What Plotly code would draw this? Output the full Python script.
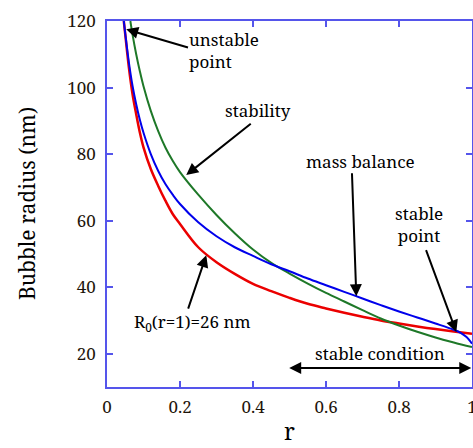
import plotly.graph_objects as go

# ---- data ----
r_red = [0.046, 0.05, 0.06, 0.07, 0.08, 0.09, 0.10, 0.12, 0.14, 0.16, 0.18, 0.20, 0.25, 0.30,
         0.35, 0.40, 0.45, 0.50, 0.55, 0.60, 0.65, 0.70, 0.75, 0.80, 0.85, 0.90, 0.95, 1.00]
R_red = [120, 116, 106, 98, 92, 86.5, 82, 75.5, 70.5, 66, 62, 59, 52, 47.5,
         44, 41, 38.8, 36.8, 35, 33.6, 32.3, 31.1, 30, 29.1, 28.2, 27.4, 26.7, 26]

r_blue = [0.046, 0.05, 0.06, 0.07, 0.08, 0.09, 0.10, 0.12, 0.14, 0.16, 0.18, 0.20, 0.25, 0.30,
          0.35, 0.40, 0.45, 0.50, 0.55, 0.60, 0.65, 0.70, 0.75, 0.80, 0.85, 0.90, 0.95, 0.97,
          0.985, 1.00]
R_blue = [120, 116.2, 107.5, 100.5, 95, 90.3, 86.4, 80, 75, 71, 67.8, 65, 59.5, 55.3,
          52, 49.4, 46.9, 44.8, 42.6, 40.6, 38.6, 36.6, 34.6, 32.7, 30.9, 29.1, 27.2, 26.2,
          25, 23]

r_green = [0.064, 0.07, 0.08, 0.09, 0.10, 0.12, 0.14, 0.16, 0.18, 0.20, 0.25, 0.30, 0.35, 0.40,
           0.45, 0.50, 0.55, 0.60, 0.65, 0.70, 0.75, 0.80, 0.85, 0.90, 0.95, 1.00]
R_green = [120, 115.9, 110, 104.9, 100.4, 93, 87, 82, 78, 74.6, 67.8, 61.7, 56.2, 51.3,
           47.3, 44.1, 41.1, 38.3, 35.7, 33.1, 30.6, 28.5, 26.6, 24.9, 23.4, 22]

x_ticks = [0, 0.2, 0.4, 0.6, 0.8, 1]
x_tick_labels = ["0", "0.2", "0.4", "0.6", "0.8", "1"]
y_ticks = [20, 40, 60, 80, 100, 120]
y_tick_labels = ["20", "40", "60", "80", "100", "120"]

SERIF = "Noto Serif, DejaVu Serif, serif"
AXC = "rgb(85,85,235)"

fig = go.Figure()
fig.add_trace(go.Scatter(x=r_red, y=R_red, mode="lines", line=dict(color="rgb(235,0,0)", width=2.5),
                         line_shape="spline", showlegend=False))
fig.add_trace(go.Scatter(x=r_green, y=R_green, mode="lines", line=dict(color="rgb(30,120,40)", width=2),
                         line_shape="spline", showlegend=False))
fig.add_trace(go.Scatter(x=r_blue, y=R_blue, mode="lines", line=dict(color="rgb(0,0,235)", width=2),
                         line_shape="spline", showlegend=False))

font = dict(family=SERIF, size=17, color="black")
ann = []

def arrow(x, y, ax, ay, side="end"):
    ann.append(dict(x=x, y=y, ax=ax, ay=ay, xref="x", yref="y", axref="x", ayref="y",
                    text="", showarrow=True, arrowhead=2, arrowsize=1.2, arrowwidth=2,
                    arrowcolor="black", arrowside=side, standoff=0, startstandoff=0))

def label(x, y, text, xanchor="left", align="left"):
    ann.append(dict(x=x, y=y, xref="x", yref="y", text=text, showarrow=False,
                    xanchor=xanchor, yanchor="middle", align=align, font=font))

label(0.2205, 111.1, "unstable<br>point")
arrow(0.0526, 117.5, 0.226, 111.9)
label(0.415, 93.2, "stability", xanchor="center", align="center")
arrow(0.217, 73.7, 0.398, 89.5)
label(0.6945, 77.8, "mass balance", xanchor="center", align="center")
arrow(0.683, 37.3, 0.671, 74.7)
label(0.856, 58.9, "stable<br>point", xanchor="center", align="center")
arrow(0.957, 26.5, 0.8726, 51.6)
label(0.069, 29.5, "R<sub>0</sub>(r=1)=26 nm")
arrow(0.272, 49.6, 0.221, 33.1)
label(0.7466, 20.1, "stable condition", xanchor="center", align="center")
arrow(0.998, 15.7, 0.495, 15.7, side="end+start")

# axis titles
ann.append(dict(x=0, y=0.5, xref="paper", yref="paper", xshift=-80, text="Bubble radius (nm)",
                textangle=-90, showarrow=False, xanchor="center", yanchor="middle",
                font=dict(family=SERIF, size=21, color="black")))
ann.append(dict(x=0.5, y=0, xref="paper", yref="paper", yshift=-62, text="r",
                showarrow=False, xanchor="center", yanchor="bottom",
                font=dict(family=SERIF, size=23, color="black")))

axis_common = dict(showline=True, linecolor=AXC, linewidth=1.5, mirror="allticks",
                   ticks="inside", ticklen=6, tickwidth=1.5, tickcolor=AXC,
                   showgrid=False, zeroline=False, ticklabeloverflow="allow",
                   tickfont=dict(family=SERIF, size=17, color="rgb(30,20,10)"))

fig.update_layout(
    width=473, height=448,
    margin=dict(l=107, r=1, t=21, b=61, autoexpand=False),
    paper_bgcolor="white", plot_bgcolor="white",
    xaxis=dict(range=[0, 1], tickvals=x_ticks, ticktext=x_tick_labels, ticklabelstandoff=4,
               automargin=False, **axis_common),
    yaxis=dict(range=[10, 120], tickvals=y_ticks, ticktext=y_tick_labels, ticklabelstandoff=6,
               automargin=False, **axis_common),
    annotations=ann,
)

fig.write_html("out.html")
